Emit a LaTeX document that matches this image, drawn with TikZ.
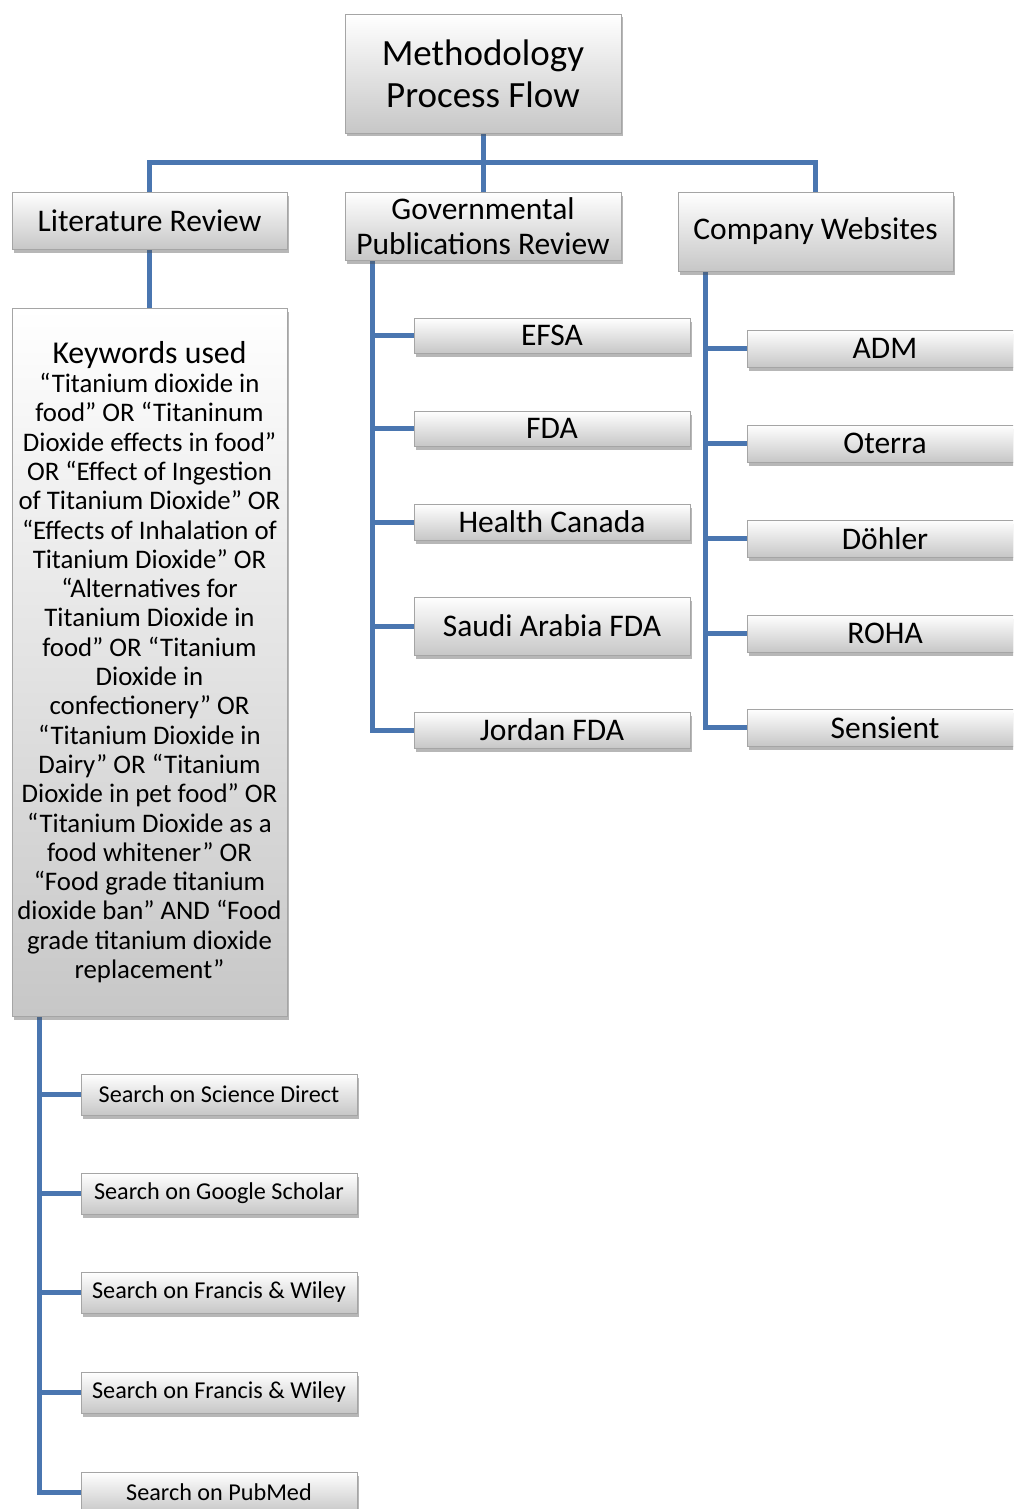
\documentclass[tikz,border=0pt]{standalone}
\usepackage{fontspec}
\setmainfont{Carlito}
\usetikzlibrary{shadows,backgrounds}
\definecolor{conn}{RGB}{74,118,176}
\definecolor{boxedge}{RGB}{165,165,165}
\tikzset{
  box/.style={rectangle, draw=boxedge, line width=0.8pt, top color=white, bottom color=black!22,
    inner sep=0pt, align=center, text=black,
    drop shadow={shadow xshift=2pt, shadow yshift=-3.5pt, opacity=0.4, fill=black!70}},
  conline/.style={draw=conn, line width=5pt, line join=miter},
  big/.style={font=\fontsize{37}{42}\selectfont},
  mid/.style={font=\fontsize{31.5}{35}\selectfont},
  sml/.style={font=\fontsize{24.2}{26}\selectfont},
}
\begin{document}
\begin{tikzpicture}[x=1pt,y=-1pt]
\useasboundingbox (0,0) rectangle (1013,1509);
\clip (0,0) rectangle (1013,1509);
% top level
\node[box,big,minimum width=276pt,minimum height=119pt] (title) at (483,73.5) {Methodology\\Process Flow};
\node[box,mid,minimum width=275pt,minimum height=57pt] (lit) at (149.5,220.5) {Literature Review};
\node[box,mid,minimum width=276pt,minimum height=68pt] (gov) at (483,226) {Governmental\\Publications Review};
\node[box,mid,minimum width=275pt,minimum height=79pt] (comp) at (815.5,231.5) {Company Websites};
\coordinate (bus) at (483,162);
% keywords
\node[box,minimum width=275pt,minimum height=708pt,font=\fontsize{26.8}{29.3}\selectfont] (kw) at (149.5,662) {{\fontsize{31.8}{32}\selectfont Keywords used}\\
“Titanium dioxide in\\
food” OR “Titaninum\\
Dioxide effects in food”\\
OR “Effect of Ingestion\\
of Titanium Dioxide” OR\\
“Effects of Inhalation of\\
Titanium Dioxide” OR\\
“Alternatives for\\
Titanium Dioxide in\\
food” OR “Titanium\\
Dioxide in\\
confectionery” OR\\
“Titanium Dioxide in\\
Dairy” OR “Titanium\\
Dioxide in pet food” OR\\
“Titanium Dioxide as a\\
food whitener” OR\\
“Food grade titanium\\
dioxide ban” AND “Food\\
grade titanium dioxide\\
replacement”};
% search boxes
\node[box,sml,minimum width=276pt,minimum height=41pt] (s1) at (219,1094.5) {Search on Science Direct};
\node[box,sml,minimum width=276pt,minimum height=41pt] (s2) at (219,1193.5) {Search on Google Scholar};
\node[box,sml,minimum width=276pt,minimum height=41pt] (s3) at (219,1292.5) {Search on Francis \& Wiley};
\node[box,sml,minimum width=276pt,minimum height=41pt] (s4) at (219,1392.5) {Search on Francis \& Wiley};
\node[box,sml,minimum width=276pt,minimum height=41pt] (s5) at (219,1492.5) {Search on PubMed};
% governmental
\node[box,mid,minimum width=276pt,minimum height=35pt] (g1) at (552,335.5) {EFSA};
\node[box,mid,minimum width=276pt,minimum height=35pt] (g2) at (552,428.5) {FDA};
\node[box,mid,minimum width=276pt,minimum height=36pt] (g3) at (552,522) {Health Canada};
\node[box,mid,minimum width=276pt,minimum height=58pt] (g4) at (552,626) {Saudi Arabia FDA};
\node[box,mid,minimum width=276pt,minimum height=36pt] (g5) at (552,730) {Jordan FDA};
% companies
\node[box,mid,minimum width=276pt,minimum height=37pt] (c1) at (885,348.5) {ADM};
\node[box,mid,minimum width=276pt,minimum height=37pt] (c2) at (885,443.5) {Oterra};
\node[box,mid,minimum width=276pt,minimum height=37pt] (c3) at (885,538.5) {Döhler};
\node[box,mid,minimum width=276pt,minimum height=37pt] (c4) at (885,633.5) {ROHA};
\node[box,mid,minimum width=276pt,minimum height=37pt] (c5) at (885,727.5) {Sensient};
% trunk tops
\coordinate (gt) at ([xshift=28pt]gov.south west);
\coordinate (ct) at ([xshift=28pt]comp.south west);
\coordinate (kt) at ([xshift=28pt]kw.south west);
\begin{scope}[on background layer]
\draw[conline] (title.south) -- (gov.north);
\draw[conline] (lit.north) |- (bus) -| (comp.north);
\draw[conline] (lit.south) -- (kw.north);
\foreach \n in {g1,g2,g3,g4,g5} \draw[conline] (gt) |- (\n.west);
\foreach \n in {c1,c2,c3,c4,c5} \draw[conline] (ct) |- (\n.west);
\foreach \n in {s1,s2,s3,s4,s5} \draw[conline] (kt) |- (\n.west);
\end{scope}
\end{tikzpicture}
\end{document}
